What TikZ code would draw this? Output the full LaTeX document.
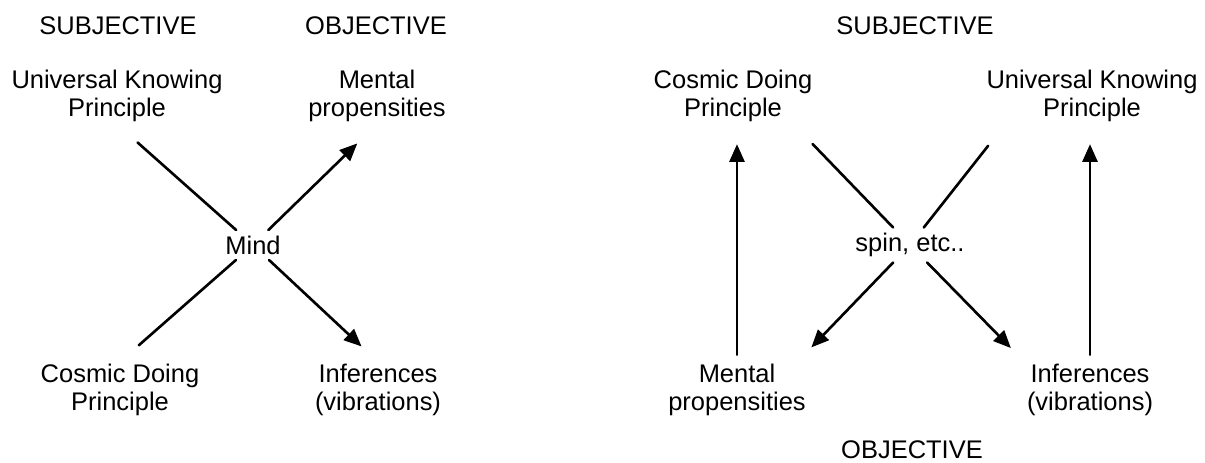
\documentclass[tikz,border=0pt]{standalone}
\usepackage{fontspec}
\setmainfont{Liberation Sans}
\usetikzlibrary{arrows.meta}
\tikzset{
  lab/.style={align=center, font=\fontsize{14.5}{16.2}\selectfont, inner sep=1pt},
  hub/.style={lab, inner sep=3pt},
  ln/.style={line width=1.5pt, line cap=round},
  arr/.style={ln, -{Triangle[length=10pt,width=8.5pt]}},
}

\begin{document}
\begin{tikzpicture}[x=0.02cm, y=-0.02cm]
  \useasboundingbox (0,0) rectangle (1205,463);

  % left diagram
  \node[lab] (subjL) at (118,26) {SUBJECTIVE};
  \node[lab] (objL)  at (376,26) {OBJECTIVE};
  \node[lab] (knowL) at (117,96) {Universal Knowing\\Principle};
  \node[lab] (mentL) at (377,96) {Mental\\propensities};
  \node[hub] (mind)  at (253,245) {Mind};
  \node[lab] (doL)   at (120,390) {Cosmic Doing\\Principle};
  \node[lab] (infL)  at (378,390) {Inferences\\(vibrations)};

  \draw[ln, shorten >=0.55cm]  (mind) -- (knowL.south);
  \draw[arr, shorten >=0.55cm] (mind) -- (mentL.south);
  \draw[ln, shorten >=0.5cm]   (mind) -- (doL.north);
  \draw[arr, shorten >=0.45cm] (mind) -- (infL.north);

  % right diagram
  \node[lab] (subjR) at (915,26)  {SUBJECTIVE};
  \node[lab] (doR)   at (733,96)  {Cosmic Doing\\Principle};
  \node[lab] (knowR) at (1092,96) {Universal Knowing\\Principle};
  \node[hub] (spin)  at (910,245) {spin, etc..};
  \node[lab] (mentR) at (737,390) {Mental\\propensities};
  \node[lab] (infR)  at (1090,390) {Inferences\\(vibrations)};
  \node[lab] (objR)  at (912,450) {OBJECTIVE};

  \draw[ln, shorten >=0.55cm]  (spin) -- (doR.-25);
  \draw[ln, shorten >=0.55cm]  (spin) -- (knowR.-162);
  \draw[arr, shorten >=0.4cm]  (spin) -- (mentR.25);
  \draw[arr, shorten >=0.4cm]  (spin) -- (infR.157);

  \draw[arr, shorten <=0.14cm, shorten >=0.4cm] (mentR.north) -- (mentR.north |- doR.south);
  \draw[arr, shorten <=0.14cm, shorten >=0.4cm] (infR.north) -- (infR.north |- knowR.south);
\end{tikzpicture}
\end{document}
